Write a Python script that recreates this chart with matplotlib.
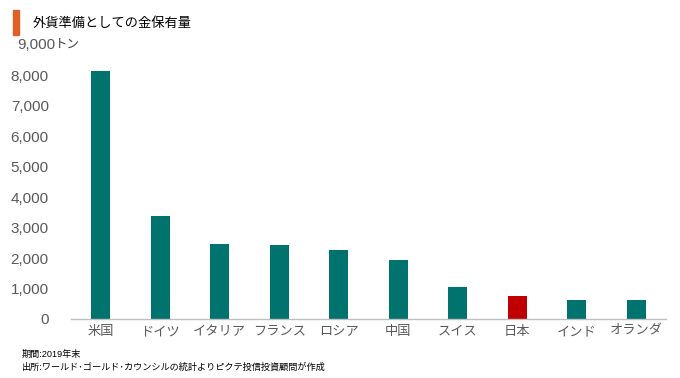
import matplotlib
matplotlib.use("Agg")
import matplotlib.pyplot as plt
from matplotlib.patches import Rectangle

plt.rcParams['font.family'] = ['Liberation Sans', 'Noto Sans CJK JP', 'DejaVu Sans']

countries = ["米国", "ドイツ", "イタリア", "フランス", "ロシア", "中国", "スイス", "日本", "インド", "オランダ"]
gold_tons = [8133, 3367, 2452, 2436, 2270, 1948, 1040, 765, 618, 613]
bar_colors = ["#00736E"] * 7 + ["#C00000"] + ["#00736E"] * 2
yticks = [0, 1000, 2000, 3000, 4000, 5000, 6000, 7000, 8000]
ytick_labels = ["0", "1,000", "2,000", "3,000", "4,000", "5,000", "6,000", "7,000", "8,000"]

fig = plt.figure(figsize=(6.8, 3.78), dpi=100)
W, H = 680, 378
ax = fig.add_axes([71 / W, 1 - 319 / H, (666 - 71) / W, (319 - 45) / H])

x = list(range(len(countries)))
ax.bar(x, gold_tons, width=0.32, color=bar_colors, zorder=2)
ax.set_xlim(-0.5, len(countries) - 0.5)
ax.set_ylim(0, 9000)
ax.set_yticks(yticks)
ax.set_yticklabels(ytick_labels)
ax.set_xticks(x)
ax.set_xticklabels(countries, fontsize=9.5)

for s in ["top", "right", "left"]:
    ax.spines[s].set_visible(False)
ax.spines["bottom"].set_color("#BFBFBF")
ax.spines["bottom"].set_linewidth(1.0)
ax.tick_params(axis="both", length=0, colors="#595959")
ax.tick_params(axis="y", pad=16, labelsize=11)
ax.tick_params(axis="x", pad=5)

# 9,000トン label
ax.text(-16 / (666 - 71), 9000, "9,000", transform=ax.get_yaxis_transform(),
        ha="right", va="center", fontsize=11, color="#595959")
fig.text(55 / W, 1 - 45 / H, "トン", ha="left", va="center", fontsize=9, color="#404040")

# title
fig.patches.append(Rectangle((13 / W, 1 - 35 / H), 6 / W, 25 / H, transform=fig.transFigure,
                             color="#E0602A", zorder=5))
fig.text(33 / W, 1 - 23 / H, "外貨準備としての金保有量", ha="left", va="center",
         fontsize=9.5, color="#000000")

# notes
fig.text(22 / W, 1 - 354 / H, "期間:2019年末", ha="left", va="center", fontsize=6.6, color="#000000")
fig.text(22 / W, 1 - 367 / H, "出所:ワールド･ゴールド･カウンシルの統計よりピクテ投信投資顧問が作成",
         ha="left", va="center", fontsize=6.6, color="#000000")

fig.savefig("out.png", dpi=100)
